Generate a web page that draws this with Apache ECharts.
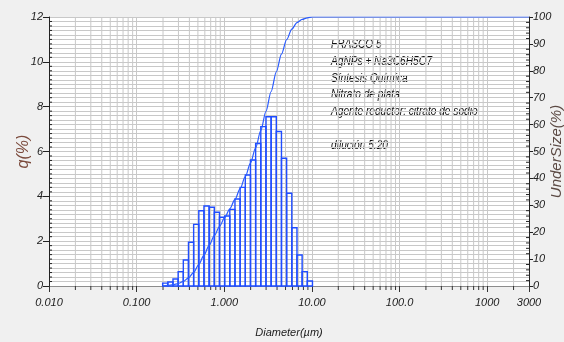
<!DOCTYPE html>
<html>
<head>
<meta charset="utf-8">
<script src="https://cdn.jsdelivr.net/npm/echarts@6/dist/echarts.min.js"></script>
<style>
  html, body { margin: 0; padding: 0; background: #f0f0f0; }
  #c { width: 564px; height: 342px; }
</style>
</head>
<body>
<div id="c"></div>
<script>
// Size-class edges (µm)
const binEdges = [0.1981, 0.2269, 0.2599, 0.2976, 0.3409, 0.3905, 0.4472, 0.5122, 0.5867, 0.6720,
                  0.7697, 0.8816, 1.0097, 1.1565, 1.3246, 1.5172, 1.7377, 1.9904, 2.2797, 2.6111,
                  2.9907, 3.4255, 3.9234, 4.4938, 5.1471, 5.8953, 6.7523, 7.7339, 8.8583, 10.146];
// Frequency q (%) of each class
const qPercent = [0.13, 0.18, 0.31, 0.64, 1.16, 1.95, 2.75, 3.36, 3.57, 3.51,
                  3.29, 3.07, 3.12, 3.42, 3.88, 4.40, 4.95, 5.62, 6.36, 7.11,
                  7.55, 7.55, 6.89, 5.70, 4.14, 2.60, 1.38, 0.64, 0.22];
// Cumulative undersize (%) at each class upper edge
const underSize = [0.2, 0.5, 0.9, 1.7, 3.0, 5.1, 8.0, 11.5, 15.1, 18.7,
                   22.1, 25.4, 28.7, 32.2, 36.2, 40.7, 45.7, 51.4, 57.8, 64.9,
                   72.3, 79.6, 86.2, 91.6, 95.5, 97.9, 99.1, 99.7, 100];
// Diameter axis range and tick labels
const xMin = 0.01, xMax = 3000;
const xTickValues = [0.01, 0.1, 1, 10, 100, 1000, 3000];
const xTickLabels = ['0.010', '0.100', '1.000', '10.00', '100.0', '1000', '3000'];
// Sample annotation
const noteLines = ['FRASCO 5', 'AgNPs + Na3C6H5O7', 'Síntesis Química', 'Nitrato de plata',
                   'Agente reductor: citrato de sodio', '', 'dilución 5:20'];

const FONT = "'Liberation Sans', Arial, sans-serif";

// Log-spaced minor grid positions (2..9 within each decade)
const minorX = [];
for (let e = -2; e <= 3; e++) {
  for (let m = 2; m <= 9; m++) {
    const v = m * Math.pow(10, e);
    if (v < xMax) minorX.push(v);
  }
}

const bars = qPercent.map((q, i) => [binEdges[i], binEdges[i + 1], q]);
const curve = [[binEdges[0], 0]].concat(underSize.map((u, i) => [binEdges[i + 1], u]));
curve.push([xMax, 100]);

function xLabel(v) {
  const lv = Math.log10(v);
  for (let i = 0; i < xTickValues.length; i++) {
    if (Math.abs(Math.log10(xTickValues[i]) - lv) < 1e-3) return xTickLabels[i];
  }
  return '';
}

const chart = echarts.init(document.getElementById('c'));
chart.setOption({
  backgroundColor: '#f0f0f0',
  animation: false,
  grid: { left: 49, right: 35, top: 17, bottom: 56, show: true, backgroundColor: '#ffffff', borderWidth: 0,
          containLabel: false, outerBoundsMode: 'none' },
  xAxis: {
    type: 'log', logBase: 10, min: xMin, max: xMax,
    axisLine: { lineStyle: { color: '#8c8c8c', width: 1 } },
    axisTick: { length: 6, lineStyle: { color: '#333' } },
    splitLine: { show: true, lineStyle: { color: '#c8c8c8', width: 1 } },
    axisLabel: { formatter: xLabel, fontFamily: FONT, fontStyle: 'italic', fontSize: 11, color: '#222',
                 margin: 11, showMinLabel: true, showMaxLabel: true },
    name: 'Diameter(µm)', nameLocation: 'middle', nameGap: 41, nameMoveOverlap: false,
    nameTextStyle: { fontFamily: FONT, fontStyle: 'italic', fontSize: 11, color: '#222' }
  },
  yAxis: [{
    type: 'value', min: 0, max: 12, interval: 2, position: 'left',
    axisLine: { show: true, lineStyle: { color: '#222' } },
    axisTick: { show: true, length: 6, lineStyle: { color: '#222' } },
    minorTick: { show: false, splitNumber: 10 },
    splitLine: { show: true, lineStyle: { color: '#c8c8c8' } },
    minorSplitLine: { show: true, lineStyle: { color: '#c8c8c8' } },
    axisLabel: { fontFamily: FONT, fontStyle: 'italic', fontSize: 11, color: '#222', margin: 6 },
    name: 'q(%)', nameLocation: 'middle', nameGap: 17, nameRotate: 90, nameMoveOverlap: false,
    nameTextStyle: { fontFamily: FONT, fontStyle: 'italic', fontSize: 16, color: '#7b4a3c' }
  }, {
    type: 'value', min: 0, max: 100, interval: 10, position: 'right',
    axisLine: { show: true, lineStyle: { color: '#222' } },
    axisTick: { show: true, length: 4, lineStyle: { color: '#222' } },
    splitLine: { show: false },
    axisLabel: { fontFamily: FONT, fontStyle: 'italic', fontSize: 11, color: '#222', margin: 4 },
    name: 'UnderSize(%)', nameLocation: 'middle', nameGap: 20, nameRotate: 90, nameMoveOverlap: false,
    nameTextStyle: { fontFamily: FONT, fontStyle: 'italic', fontSize: 15, color: '#5c4a44' }
  }],
  graphic: [{
    type: 'text', x: 331, y: 36, scaleX: 0.78,
    style: { text: noteLines.join('\n'), font: 'italic 13px ' + FONT, fill: '#111', lineHeight: 16.8 }
  }],
  series: [{
    // minor vertical grid lines, x minor ticks and inner y minor ticks
    type: 'custom', xAxisIndex: 0, yAxisIndex: 0, z: 1, silent: true,
    data: [0],
    renderItem: function (params, api) {
      const children = [];
      minorX.forEach(function (v) {
        const b = api.coord([v, 0]);
        const t = api.coord([v, 12]);
        children.push({ type: 'line', shape: { x1: b[0], y1: b[1], x2: t[0], y2: t[1] },
                        style: { stroke: '#c8c8c8', lineWidth: 1 } });
        children.push({ type: 'line', shape: { x1: b[0], y1: b[1], x2: b[0], y2: b[1] + 4 },
                        style: { stroke: '#333', lineWidth: 1 } });
      });
      const cs = params.coordSys;
      const xl = cs.x, xr = cs.x + cs.width;
      for (let k = 1; k < 60; k++) {
        if (k % 10 === 0) continue;
        const p = api.coord([xMin, k * 0.2]);
        children.push({ type: 'line', shape: { x1: xl, y1: p[1], x2: xl + 3, y2: p[1] },
                        style: { stroke: '#222', lineWidth: 1 } });
      }
      for (let k = 1; k < 50; k++) {
        if (k % 5 === 0) continue;
        const y = cs.y + cs.height - cs.height * (k * 2) / 100;
        children.push({ type: 'line', shape: { x1: xr - 3, y1: y, x2: xr, y2: y },
                        style: { stroke: '#222', lineWidth: 1 } });
      }
      return { type: 'group', children: children };
    }
  }, {
    type: 'custom', xAxisIndex: 0, yAxisIndex: 0, z: 3,
    data: bars,
    encode: { x: [0, 1], y: 2 },
    renderItem: function (params, api) {
      const p0 = api.coord([api.value(0), 0]);
      const p1 = api.coord([api.value(1), api.value(2)]);
      return {
        type: 'rect',
        shape: { x: p0[0], y: p1[1], width: p1[0] - p0[0], height: p0[1] - p1[1] },
        style: { fill: 'none', stroke: '#1f4dff', lineWidth: 1.4 }
      };
    }
  }, {
    type: 'line', xAxisIndex: 0, yAxisIndex: 1, z: 4,
    data: curve, showSymbol: false, smooth: 0.3, smoothMonotone: 'x',
    lineStyle: { color: '#2a5cff', width: 1.2 }
  }]
});
</script>
</body>
</html>
